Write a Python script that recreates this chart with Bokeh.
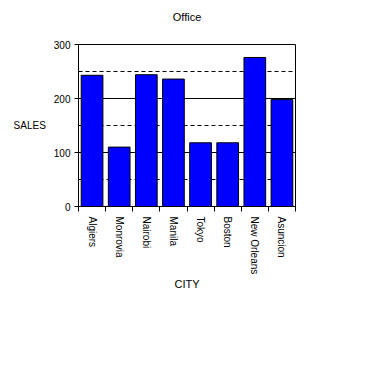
import math
from bokeh.plotting import figure
from bokeh.models import Range1d, FixedTicker, CustomJSTickFormatter, ColumnDataSource, Title
from bokeh.embed import file_html
from bokeh.resources import INLINE

cities = ["Algiers", "Monrovia", "Nairobi", "Manila", "Tokyo", "Boston", "New Orleans", "Asuncion"]
sales = [243, 110, 244, 236, 118, 118, 276, 198]
y_ticks = [0, 100, 200, 300]
y_minor = [50, 150, 250]

FONT = "Liberation Sans"
FS = "10px"

n = len(cities)
centers = [i + 0.5 for i in range(n)]
bounds = list(range(n + 1))

src = ColumnDataSource(dict(x=centers, top=sales, city=cities))

p = figure(frame_width=217, frame_height=162,
           x_range=Range1d(0, n), y_range=Range1d(0, 300),
           output_backend="svg", toolbar_location=None,
           min_border_left=78, min_border_top=44, min_border_right=12, min_border_bottom=90)

p.title.text = "Office"
p.title.align = "center"
p.title.vertical_align = "top"
p.title.text_font = FONT
p.title.text_font_size = "11px"
p.title.text_font_style = "normal"
p.title.text_color = "black"
p.title.standoff = 0

# empty spacer between the title and the frame
p.add_layout(Title(text=" ", text_font_size="1px", standoff=17), "above")

p.outline_line_color = "black"
p.outline_line_width = 1
p.background_fill_color = "white"
p.border_fill_color = "white"

p.vbar(x="x", top="top", width=0.8, source=src, fill_color="#0000FF", line_color="black", line_width=1)

p.xgrid.visible = False
yax = p.yaxis[0]
yax.ticker = FixedTicker(ticks=y_ticks, minor_ticks=y_minor)
yax.major_tick_out = 4
yax.major_tick_in = 0
yax.minor_tick_out = 0
yax.minor_tick_in = 0
yax.axis_line_color = "black"
yax.major_label_text_font = FONT
yax.major_label_text_font_size = FS
yax.major_label_text_color = "black"
yax.major_label_standoff = 4
yax.axis_label = "SALES"
yax.axis_label_text_font = FONT
yax.axis_label_text_font_size = FS
yax.axis_label_text_font_style = "normal"
yax.axis_label_text_color = "black"
yax.axis_label_standoff = 5
yax.axis_label_orientation = "horizontal"

p.ygrid.grid_line_color = "black"
p.ygrid.grid_line_width = 1
p.ygrid.minor_grid_line_color = "black"
p.ygrid.minor_grid_line_dash = "4 3"

xax = p.xaxis[0]
xax.ticker = FixedTicker(ticks=centers, minor_ticks=bounds)
xax.formatter = CustomJSTickFormatter(args=dict(names=cities), code="return names[Math.floor(tick)];")
xax.major_tick_out = 0
xax.major_tick_in = 0
xax.minor_tick_out = 5
xax.minor_tick_in = 0
xax.axis_line_color = "black"
xax.major_label_orientation = -math.pi / 2
xax.major_label_text_font = FONT
xax.major_label_text_font_size = FS
xax.major_label_text_color = "black"
xax.major_label_standoff = 5
xax.axis_label = "CITY"
xax.axis_label_text_font = FONT
xax.axis_label_text_font_size = "11px"
xax.axis_label_text_font_style = "normal"
xax.axis_label_text_color = "black"
xax.axis_label_standoff = 1

open("out.html", "w").write(file_html(p, INLINE))
